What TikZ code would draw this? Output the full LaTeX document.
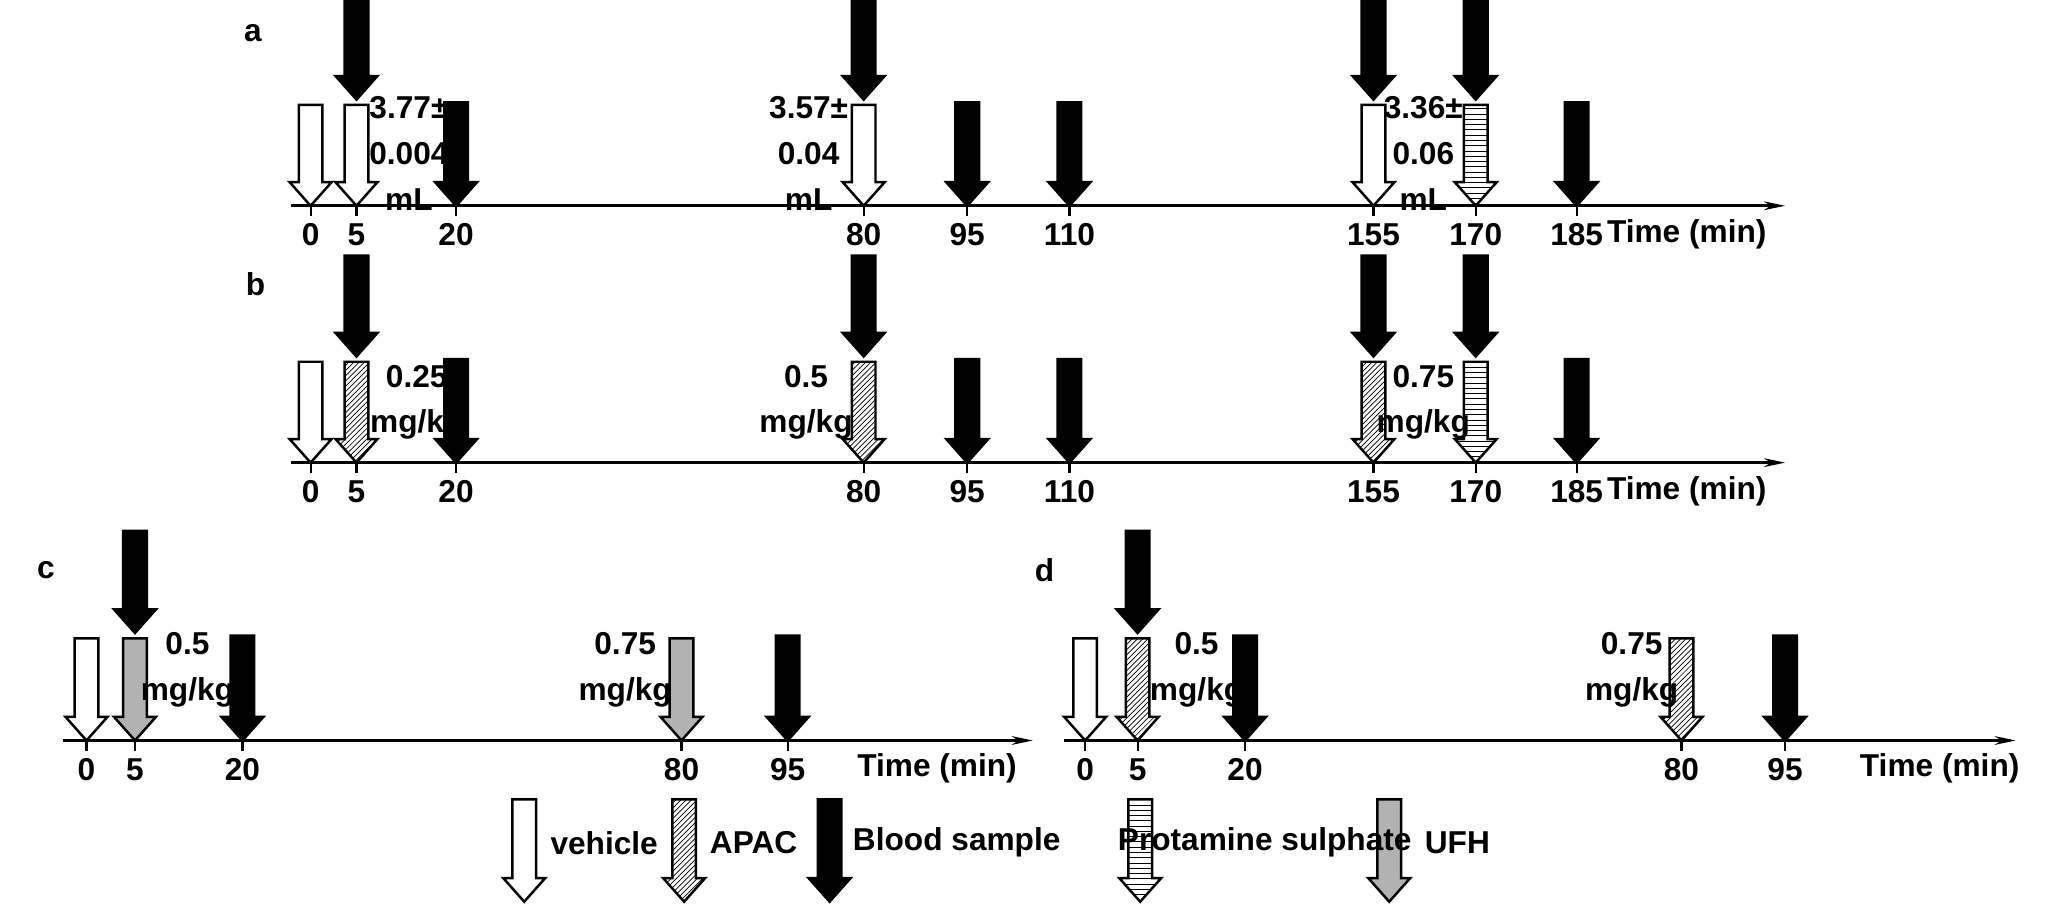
\documentclass[tikz,border=0pt]{standalone}
\usepackage{fontspec}
\setmainfont{Liberation Sans}
\usetikzlibrary{patterns,arrows.meta}
\newcommand\darr[4]{\draw[#4] (#1-9,#2) -- (#1+9,#2) -- (#1+9,#3-18) -- (#1+16,#3-18) -- (#1,#3) -- (#1-16,#3-18) -- (#1-9,#3-18) -- cycle;}
\tikzset{
 veh/.style={draw=black,line width=1.4pt,fill=white},
 apac/.style={draw=black,line width=1.4pt,pattern=north east lines},
 blood/.style={draw=black,line width=1.4pt,fill=black},
 prot/.style={draw=black,line width=1.4pt,pattern=horizontal lines},
 ufh/.style={draw=black,line width=1.4pt,fill=black!30},
 axis/.style={line width=1.5pt,-{Stealth[length=12pt,width=5pt]}},
 lab/.style={font=\fontsize{18}{20}\selectfont\bfseries},
 dose/.style={font=\fontsize{18}{26}\selectfont\bfseries,align=center,inner sep=0pt}
}
\newcommand\tk[3]{\draw[line width=1.2pt] (#1,#2) -- (#1,#2+8); \node[lab] at (#1,#2+22) {#3};}
\begin{document}
\begin{tikzpicture}[x=0.0262cm,y=-0.0262cm]
\useasboundingbox (0,0) rectangle (1568,691.3);
% panel a
\node[lab] at (193,25) {a};
\draw[axis] (222,157) -- (1362,157);
\foreach \x/\t in {237/0,272/5,348/20,659/80,738/95,816/110,1048/155,1126/170,1203/185}{\tk{\x}{157}{\t}}
\node[lab] at (1287,179) {Time (min)};
\darr{237}{80}{157}{veh}
\darr{272}{80}{157}{veh}
\darr{659}{80}{157}{veh}
\darr{1048}{80}{157}{veh}
\darr{1126}{80}{157}{prot}
\foreach \x in {348,738,816,1203}{\darr{\x}{78}{157}{blood}}
\foreach \x in {272,659,1048,1126}{\darr{\x}{-2}{76}{blood}}
\node[dose] at (312,117) {3.77±\\0.004\\mL};
\node[dose] at (617,117) {3.57±\\0.04\\mL};
\node[dose] at (1086,117) {3.36±\\0.06\\mL};
% panel b
\node[lab] at (195,217) {b};
\draw[axis] (222,353) -- (1362,353);
\foreach \x/\t in {237/0,272/5,348/20,659/80,738/95,816/110,1048/155,1126/170,1203/185}{\tk{\x}{353}{\t}}
\node[lab] at (1287,375) {Time (min)};
\darr{237}{276}{353}{veh}
\darr{272}{276}{353}{apac}
\darr{659}{276}{353}{apac}
\darr{1048}{276}{353}{apac}
\darr{1126}{276}{353}{prot}
\foreach \x in {348,738,816,1203}{\darr{\x}{274}{353}{blood}}
\foreach \x in {272,659,1048,1126}{\darr{\x}{195}{272}{blood}}
\node[dose] at (318,307) {0.25\\mg/kg};
\node[dose] at (615,307) {0.5\\mg/kg};
\node[dose] at (1086,307) {0.75\\mg/kg};
% panel c
\node[lab] at (35,435) {c};
\draw[axis] (48,565) -- (788,565);
\foreach \x/\t in {66/0,103/5,185/20,520/80,601/95}{\tk{\x}{565}{\t}}
\node[lab] at (715,586) {Time (min)};
\darr{66}{487}{565}{veh}
\darr{103}{487}{565}{ufh}
\darr{520}{487}{565}{ufh}
\foreach \x in {185,601}{\darr{\x}{485}{565}{blood}}
\darr{103}{405}{483}{blood}
\node[dose] at (143,511) {0.5\\mg/kg};
\node[dose] at (477,511) {0.75\\mg/kg};
% panel d
\node[lab] at (797,435) {d};
\draw[axis] (812,565) -- (1538,565);
\foreach \x/\t in {828/0,868/5,950/20,1283/80,1362/95}{\tk{\x}{565}{\t}}
\node[lab] at (1480,586) {Time (min)};
\darr{828}{487}{565}{veh}
\darr{868}{487}{565}{apac}
\darr{1283}{487}{565}{apac}
\foreach \x in {950,1362}{\darr{\x}{485}{565}{blood}}
\darr{868}{405}{483}{blood}
\node[dose] at (913,511) {0.5\\mg/kg};
\node[dose] at (1245,511) {0.75\\mg/kg};
% legend
\darr{400}{610}{688}{veh}
\darr{522}{610}{688}{apac}
\darr{633}{610}{688}{blood}
\darr{870}{610}{688}{prot}
\darr{1060}{610}{688}{ufh}
\node[lab] at (461,643) {vehicle};
\node[lab] at (575,643) {APAC};
\node[lab] at (730,643) {Blood sample};
\node[lab] at (965,643) {Protamine sulphate};
\node[lab] at (1112,643) {UFH};
\end{tikzpicture}
\end{document}
